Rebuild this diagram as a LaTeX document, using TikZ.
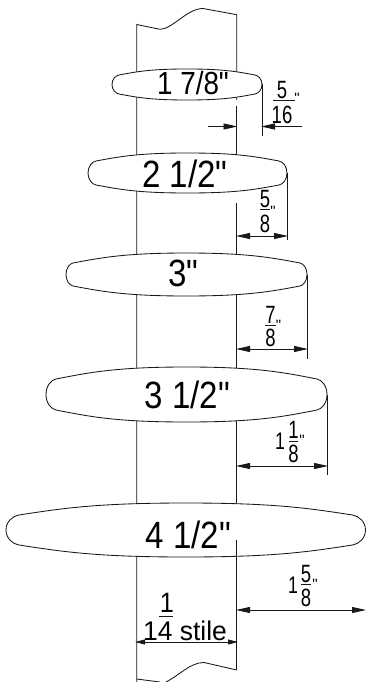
\documentclass[tikz,border=0pt]{standalone}
\usepackage{fontspec}
\newfontfamily\lib{Liberation Sans}
\usetikzlibrary{arrows.meta}
\newcommand{\hoop}[7]{% name, L, R, T, B, sx, sy
  \pgfmathsetmacro{\hL}{#2}\pgfmathsetmacro{\hR}{#3}\pgfmathsetmacro{\hT}{#4}\pgfmathsetmacro{\hB}{#5}
  \pgfmathsetmacro{\hM}{(\hT+\hB)/2}\pgfmathsetmacro{\hC}{(\hL+\hR)/2}\pgfmathsetmacro{\hW}{(\hR-\hL)}
  \pgfmathsetmacro{\hU}{0.55*#7}
  \pgfmathsetmacro{\hV}{0.5*#6*\hU/(0.12*\hW)}
  \draw[hoopline] (\hL,\hM)
    .. controls (\hL,{\hM-0.55*(\hM-\hT-#7)}) and ({\hL+0.5*#6},{\hT+#7+\hV}) .. ({\hL+#6},{\hT+#7})
    .. controls ({\hL+#6+0.12*\hW},{\hT+#7-\hU}) and ({\hC-0.25*\hW},\hT) .. (\hC,\hT)
    .. controls ({\hC+0.25*\hW},\hT) and ({\hR-#6-0.12*\hW},{\hT+#7-\hU}) .. ({\hR-#6},{\hT+#7})
    .. controls ({\hR-0.5*#6},{\hT+#7+\hV}) and (\hR,{\hM-0.55*(\hM-\hT-#7)}) .. (\hR,\hM)
    .. controls (\hR,{\hM+0.55*(\hM-\hT-#7)}) and ({\hR-0.5*#6},{\hB-#7-\hV}) .. ({\hR-#6},{\hB-#7})
    .. controls ({\hR-#6-0.12*\hW},{\hB-#7+\hU}) and ({\hC+0.25*\hW},\hB) .. (\hC,\hB)
    .. controls ({\hC-0.25*\hW},\hB) and ({\hL+#6+0.12*\hW},{\hB-#7+\hU}) .. ({\hL+#6},{\hB-#7})
    .. controls ({\hL+0.5*#6},{\hB-#7-\hV}) and (\hL,{\hM+0.55*(\hM-\hT-#7)}) .. (\hL,\hM) -- cycle;
  \coordinate (#1) at (\hR,\hM);
}
\newcommand{\sizelabel}[4]{\node[sizetext,font=\lib\fontsize{#4}{#4}\selectfont] (#1) at (#2) {\scalebox{0.87}[1]{#3}};}
\newcommand{\fracnum}[3]{\node[fractext] (#1) at (#2) {\scalebox{0.74}[1]{#3}};}
\tikzset{
  line/.style={line width=0.85pt,black!90},
  hoopline/.style={line width=0.85pt,black!90,fill=white},
  sizetext/.style={anchor=base,inner sep=0pt,text=black},
  fractext/.style={anchor=base,inner sep=0pt,text=black,font=\lib\fontsize{25}{25}\selectfont},
  inchmark/.style={anchor=base,inner sep=0pt,text=black,font=\lib\fontsize{15}{15}\selectfont},
  bigarrow/.style={line,{Triangle[length=14pt,width=6pt]}-{Triangle[length=14pt,width=6pt]}},
  onearrow/.style={line,-{Triangle[length=14pt,width=6pt]}},
  smallarrow/.style={line,{Triangle[length=10pt,width=5pt]}-{Triangle[length=10pt,width=5pt]}},
}
\begin{document}
\begin{tikzpicture}[x=1pt,y=-1pt]
\useasboundingbox (0,0) rectangle (366,682);
% stile
\draw[line] (136.7,682) -- (136.7,24.5) -- (160,29.3)
  .. controls (172,29.5) and (187,8.5) .. (203,8.5) -- (236.7,14.7) -- (236.7,100);
\draw[line] (236.7,106) -- (236.7,160);
\draw[line] (236.7,203) -- (236.7,260);
\draw[line] (236.7,290) -- (236.7,375);
\draw[line] (236.7,415) -- (236.7,510);
\draw[line] (136.7,679) -- (160,682);
\draw[line] (166,682) .. controls (180,675) and (190,662.5) .. (204,662.5) -- (236.7,670);
% hoops
\hoop{h1}{112}{262}{69}{100}{7}{6}
\hoop{h2}{88}{287}{153}{193}{8}{8}
\hoop{h3}{66}{307}{253}{296}{7}{10}
\hoop{h4}{46}{327}{367}{422}{10}{12}
\hoop{h5}{6}{365.5}{503}{557}{13}{12}
\draw[line] (236.7,540) -- (236.7,670);
% sizes
\sizelabel{s1}{193,95}{1 7/8"}{32}
\sizelabel{s2}{185,187.7}{2 1/2"}{38}
\sizelabel{s3}{183.5,286}{3"}{38}
\sizelabel{s4}{187.5,408}{3 1/2"}{38}
\sizelabel{s5}{188.5,548}{4 1/2"}{38}
% dimension 1
\coordinate (e1) at (262,136);
\coordinate (w1) at (208,126.5);
\coordinate (w1b) at (237.5,126.5);
\coordinate (w1c) at (302,126.5);
\coordinate (w1d) at (261,126.5);
\draw[line] (h1) -- (e1);
\draw[onearrow] (w1) -- (w1b);
\draw[onearrow] (w1c) -- (w1d);
\fracnum{f1a}{282,98.5}{5}
\draw[line] (273,100.5) -- (295,100.5);
\fracnum{f1b}{282,124}{16}
\node[inchmark] (i1) at (297,103) {"};
% dimension 2
\coordinate (e2) at (287,240);
\coordinate (a2) at (236,236);
\coordinate (b2) at (288,236);
\draw[line] (h2) -- (e2);
\draw[bigarrow] (a2) -- (b2);
\fracnum{f2a}{265,207.5}{5}
\draw[line] (260,209.5) -- (270,209.5);
\fracnum{f2b}{265,232}{8}
\node[inchmark] (i2) at (273,216) {"};
% dimension 3
\coordinate (e3) at (307,359);
\coordinate (a3) at (236,349);
\coordinate (b3) at (308,349);
\draw[line] (h3) -- (e3);
\draw[bigarrow] (a3) -- (b3);
\fracnum{f3a}{270.5,323}{7}
\draw[line] (265,325) -- (276,325);
\fracnum{f3b}{270.5,346}{8}
\node[inchmark] (i3) at (278.5,330) {"};
% dimension 4
\coordinate (e4) at (327,475);
\coordinate (a4) at (236,466);
\coordinate (b4) at (328,466);
\draw[line] (h4) -- (e4);
\draw[bigarrow] (a4) -- (b4);
\node[fractext,font=\lib\fontsize{24}{24}\selectfont] (f4w) at (280,449) {\scalebox{0.74}[1]{1}};
\fracnum{f4a}{293.5,438.5}{1}
\draw[line] (289,441) -- (298,441);
\fracnum{f4b}{293.5,462}{8}
\node[inchmark] (i4) at (302,445) {"};
% dimension 5
\coordinate (a5) at (236,610);
\coordinate (b5) at (366,610);
\draw[bigarrow] (a5) -- (b5);
\node[fractext,font=\lib\fontsize{24}{24}\selectfont] (f5w) at (293,593) {\scalebox{0.74}[1]{1}};
\fracnum{f5a}{306,582}{5}
\draw[line] (301,584) -- (311,584);
\fracnum{f5b}{306,606}{8}
\node[inchmark] (i5) at (315,589) {"};
% stile width
\coordinate (a6) at (135,642);
\coordinate (b6) at (238,642);
\node[fractext,font=\lib\fontsize{28}{28}\selectfont] (g1) at (167,612) {\scalebox{0.9}[1]{1}};
\draw[line] (159,616) -- (173,616);
\node[fractext,font=\lib\fontsize{27}{27}\selectfont] (g2) at (185,640) {\scalebox{0.98}[1]{14 stile}};
\draw[smallarrow] (a6) -- (b6);
\end{tikzpicture}
\end{document}
